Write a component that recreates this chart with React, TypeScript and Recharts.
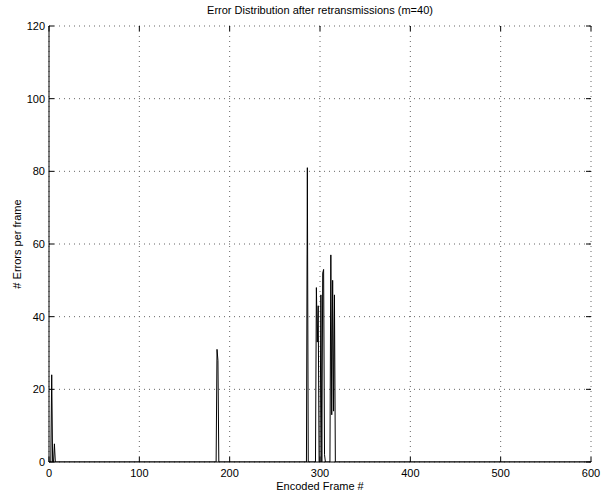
import React from 'react';
import { LineChart, Line, XAxis, YAxis, CartesianGrid } from 'recharts';

const frames = [0, 2, 3, 4, 5, 6, 7, 185, 186, 187, 188, 285, 286, 287, 295, 296, 297, 298, 299, 300, 301, 302, 303, 304, 305, 306, 311, 312, 313, 314, 315, 316, 317, 600];
const errors = [0, 0, 24, 0, 0, 5, 0, 0, 31, 28, 0, 0, 81, 0, 0, 48, 33, 43, 0, 0, 46, 0, 52, 53, 2, 0, 0, 57, 13, 50, 14, 46, 0, 0];
const xTicks = [0, 100, 200, 300, 400, 500, 600];
const yTicks = [0, 20, 40, 60, 80, 100, 120];

const TITLE = 'Error Distribution after retransmissions (m=40)';
const XLABEL = 'Encoded Frame #';
const YLABEL = '# Errors per frame';

const W = 607;
const H = 498;
const PL = 49;
const PT = 26;
const PR = 591;
const PB = 462;

const data = frames.map((f, i) => ({ frame: f, errors: errors[i] }));

const font = '"Liberation Sans", Arial, Helvetica, sans-serif';

function XTick(props: any) {
  const { x, payload } = props;
  return (
    <g>
      <line x1={x} x2={x} y1={PB} y2={PB - 5} stroke="#000" />
      <line x1={x} x2={x} y1={PT} y2={PT + 5} stroke="#000" />
      <text x={x} y={PB + 15} textAnchor="middle" fontSize={11} fontFamily={font} fill="#000">
        {payload.value}
      </text>
    </g>
  );
}

function YTick(props: any) {
  const { y, payload } = props;
  return (
    <g>
      <line x1={PL} x2={PL + 5} y1={y} y2={y} stroke="#000" />
      <line x1={PR} x2={PR - 5} y1={y} y2={y} stroke="#000" />
      <text x={PL - 4} y={y + 4} textAnchor="end" fontSize={11} fontFamily={font} fill="#000">
        {payload.value}
      </text>
    </g>
  );
}

export default function App() {
  return (
    <div style={{ position: 'absolute', left: 0, top: 0, width: W, height: H, background: '#fff', fontFamily: font }}>
      <LineChart width={W} height={H} data={data} margin={{ top: PT, right: W - PR, left: 0, bottom: 0 }}>
        <CartesianGrid stroke="#666" strokeDasharray="1 4" />
        <XAxis
          dataKey="frame"
          type="number"
          domain={[0, 600]}
          ticks={xTicks}
          interval={0}
          height={H - PB}
          tick={<XTick />}
          tickLine={false}
          axisLine={{ stroke: '#000' }}
          allowDataOverflow
        />
        <YAxis
          type="number"
          domain={[0, 120]}
          ticks={yTicks}
          interval={0}
          width={PL}
          tick={<YTick />}
          tickLine={false}
          axisLine={{ stroke: '#000' }}
          allowDataOverflow
        />
        <XAxis xAxisId="top" orientation="top" type="number" domain={[0, 600]} height={0} tick={false} tickLine={false} axisLine={{ stroke: '#000' }} />
        <YAxis yAxisId="right" orientation="right" type="number" domain={[0, 120]} width={0} tick={false} tickLine={false} axisLine={{ stroke: '#000' }} />
        <Line dataKey="errors" type="linear" stroke="#000" strokeWidth={1} dot={false} isAnimationActive={false} />
      </LineChart>
      <div style={{ position: 'absolute', left: PL, width: PR - PL, top: 3, textAlign: 'center', fontSize: 11, lineHeight: '14px', color: '#000' }}>
        {TITLE}
      </div>
      <div style={{ position: 'absolute', left: PL, width: PR - PL, top: 479, textAlign: 'center', fontSize: 11, lineHeight: '14px', color: '#000' }}>
        {XLABEL}
      </div>
      <div
        style={{
          position: 'absolute',
          left: 17 - 100,
          width: 200,
          top: (PT + PB) / 2 - 7,
          textAlign: 'center',
          fontSize: 11,
          lineHeight: '14px',
          color: '#000',
          transform: 'rotate(-90deg)',
        }}
      >
        {YLABEL}
      </div>
    </div>
  );
}
